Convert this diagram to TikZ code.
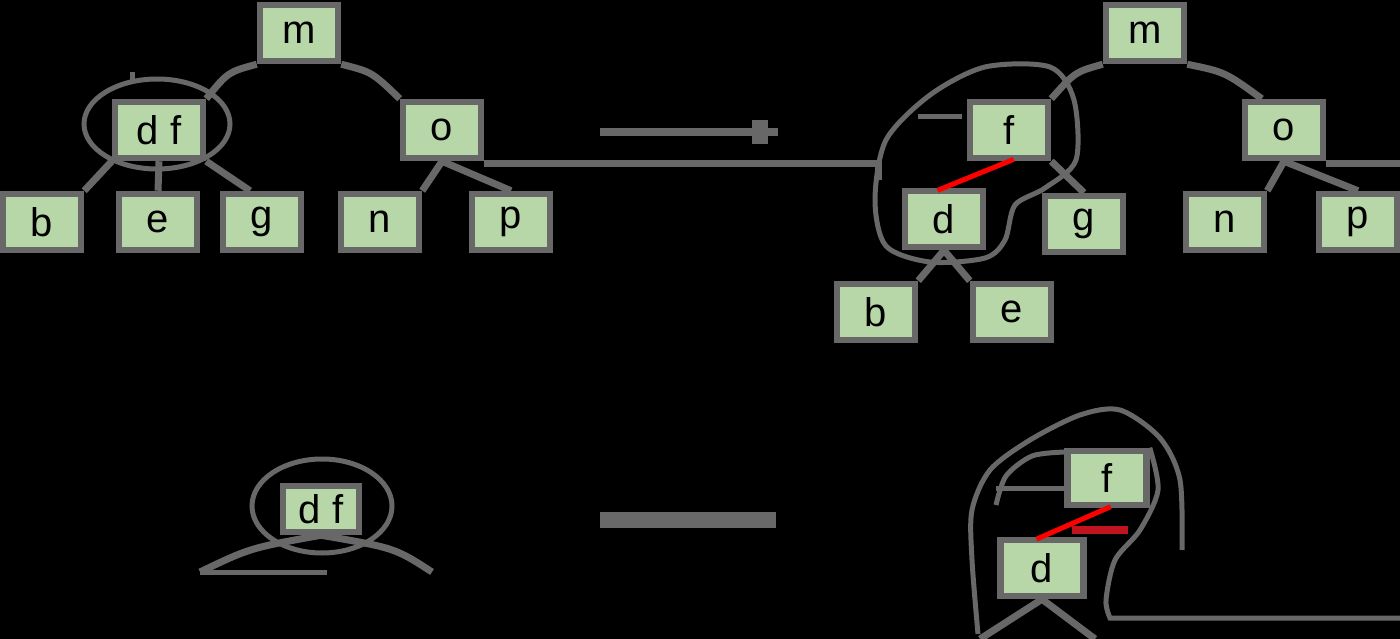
\documentclass[tikz,border=0pt]{standalone}
\usepackage{fontspec}
\setmainfont{Liberation Sans}
\usetikzlibrary{arrows.meta}
\definecolor{lgray}{HTML}{686868}
\definecolor{lgreen}{HTML}{B7D7A8}
\definecolor{dred}{HTML}{C0141E}
\tikzset{
  keybox/.style={draw=lgray, line width=6.5pt, fill=lgreen, inner sep=0pt,
    minimum width=78pt, minimum height=56pt, font=\fontsize{40}{40}\selectfont},
  edge/.style={draw=lgray, line width=7pt},
  ring/.style={draw=lgray, line width=5pt},
  redline/.style={draw=red, line width=5pt},
}
\begin{document}
\begin{tikzpicture}[x=1pt,y=-1pt]
\useasboundingbox (0,0) rectangle (1400,639);
\fill[black] (0,0) rectangle (1400,639);

% ---------- top left tree ----------
\node[keybox] (m1) at (299,33) {m};
\node[keybox, minimum width=88pt] (df1) at (159,130) {d f};
\node[keybox] (o1) at (442,130) {o};
\node[keybox] (b1) at (42,222) {b};
\node[keybox] (e1) at (158,222) {e};
\node[keybox] (g1) at (262,222) {g};
\node[keybox] (n1) at (380,222) {n};
\node[keybox] (p1) at (511,222) {p};

\draw[ring] (157,124) ellipse [x radius=73, y radius=45];
\coordinate (t1a) at (132,72);
\coordinate (t1b) at (132,82);
\draw[ring] (t1a) -- (t1b);

\draw[edge] (m1.south west) .. controls (228,72) .. (df1.north east);
\draw[edge] (m1.south east) .. controls (372,72) .. (o1.north west);
\draw[edge] (df1.south west) -- (b1.north east);
\draw[edge] (df1.south) -- (e1.north);
\draw[edge] (df1.south east) -- ([xshift=-12pt]g1.north);
\draw[edge] (o1.south) -- (n1.north east);
\draw[edge] (o1.south) -- (p1.north);
\coordinate (j1) at (878,164);
\coordinate (j1b) at (878,180);
\draw[edge] (o1.east |- j1) -- (j1) -- (j1b);

% ---------- top arrow ----------
\coordinate (a1) at (600,132);
\coordinate (a2) at (778,132);
\draw[edge, line width=8pt] (a1) -- (a2);
\fill[lgray] (752,120) rectangle (768,144);

% ---------- top right tree ----------
\node[keybox] (m2) at (1145,33) {m};
\node[keybox] (f2) at (1009,130) {f};
\node[keybox] (o2) at (1284,130) {o};
\node[keybox] (d2) at (944,219) {d};
\node[keybox] (g2) at (1084,224) {g};
\node[keybox] (n2) at (1225,222) {n};
\node[keybox] (p2) at (1358,222) {p};
\node[keybox] (b2) at (876,312) {b};
\node[keybox] (e2) at (1012,312) {e};

\draw[ring] plot[smooth cycle] coordinates {(875,200) (886,140) (930,95) (985,67)
  (1050,67) (1074,100) (1076,160) (1045,188) (1015,205) (1005,240) (985,258)
  (930,262) (886,246)};
\coordinate (r1) at (918,117);
\coordinate (r2) at (962,117);
\draw[ring] (r1) -- (r2);

\draw[edge] (m2.south west) .. controls (1075,72) .. (f2.north east);
\draw[edge] (m2.south east) .. controls (1225,72) .. ([xshift=20pt]o2.north west);
\draw[edge] (f2.south east) -- (g2.north);
\draw[edge] (o2.south) -- (n2.north east);
\draw[edge] (o2.south) -- (p2.north);
\coordinate (j2) at (1400,164);
\draw[edge] (o2.east |- j2) -- (j2);
\draw[edge] (d2.south) -- (b2.north east);
\draw[edge] (d2.south) -- (e2.north west);
\draw[redline, shorten <=-5pt, shorten >=-7pt] (f2.south) -- (d2.north);

% ---------- bottom left ----------
\node[keybox, minimum width=76pt, minimum height=46pt] (df3) at (321,509) {d f};
\draw[ring] (322,506) ellipse [x radius=70, y radius=47];
\coordinate (bl1) at (200,572);
\coordinate (bl2) at (327,572);
\coordinate (bl3) at (432,572);
\draw[ring] (bl1) -- (bl2);
\draw[edge] (df3.south) .. controls (250,548) .. (bl1);
\draw[edge] (df3.south) .. controls (395,548) .. (bl3);

% ---------- bottom bar ----------
\coordinate (c1) at (600,520);
\coordinate (c2) at (776,520);
\draw[edge, line width=16pt] (c1) -- (c2);

% ---------- bottom right ----------
\node[keybox, minimum width=79pt, minimum height=54pt] (f3) at (1107,478) {f};
\node[keybox, minimum width=83pt, minimum height=56pt] (d3) at (1042,568) {d};

\draw[ring] plot[smooth] coordinates {(978,634) (972,560) (972,510) (990,470)
  (1030,440) (1080,415) (1120,410) (1160,438) (1180,480) (1182,550)};
\draw[ring] plot[smooth] coordinates {(1065,452) (1032,456) (1006,476) (996,505)};
\coordinate (q1) at (996,488);
\draw[ring] (q1) -- (f3.west |- q1);
\coordinate (q2) at (1400,618);
\draw[ring] plot[smooth] coordinates {(f3.north east) (1158,490) (1140,530) (1115,560) (1106,600) (1110,618)} -- (q2);

\coordinate (s1) at (980,639);
\coordinate (s2) at (1095,639);
\draw[edge] (d3.south) -- (s1);
\draw[edge] (d3.south) -- (s2);

\coordinate (k1) at (1072,530);
\coordinate (k2) at (1128,530);
\draw[draw=dred, line width=8pt] (k1) -- (k2);
\draw[redline, shorten <=-4pt, shorten >=-6pt] (f3.south) -- (d3.north);
\end{tikzpicture}
\end{document}
